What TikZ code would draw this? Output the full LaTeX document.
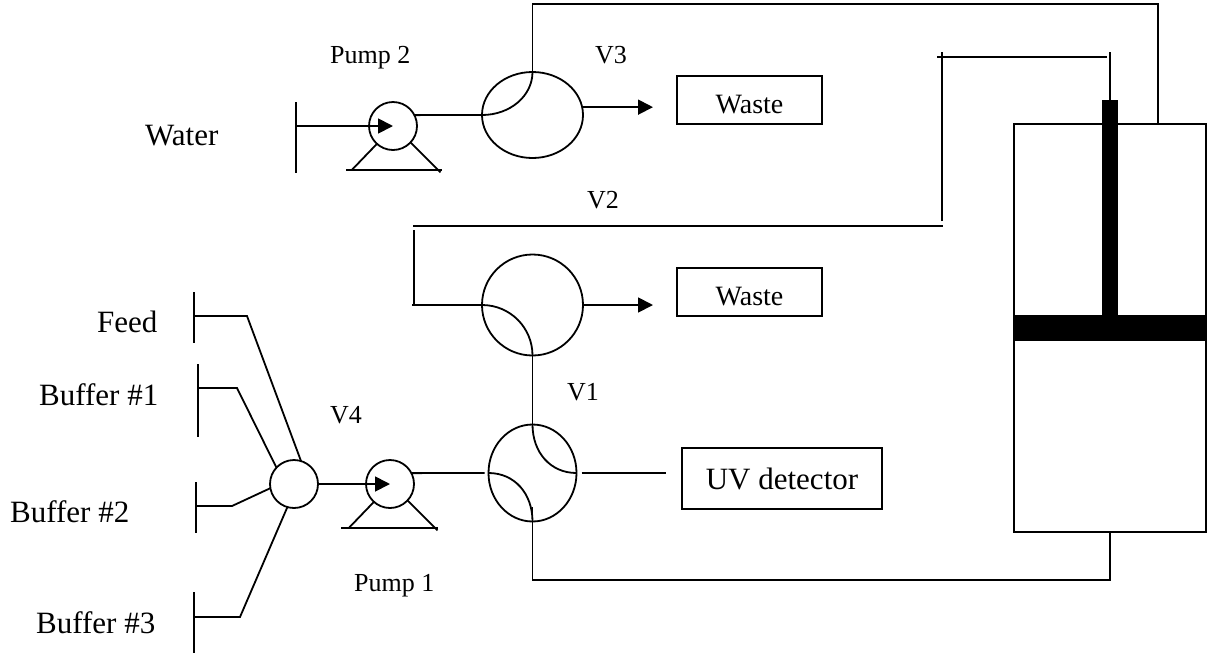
\documentclass[tikz,border=0pt]{standalone}
\usepackage{fontspec}
\setmainfont{Liberation Serif}
\usetikzlibrary{arrows.meta,shapes.geometric}

\tikzset{
  pipe/.style={line width=1.8pt},
  flow/.style={line width=1.8pt,-{Triangle[length=15pt,width=15pt]}},
  valve/.style={draw,line width=1.8pt,ellipse,inner sep=0pt,outer sep=0pt},
  pumpbody/.style={draw,line width=1.8pt,circle,inner sep=0pt,outer sep=0pt,minimum size=48pt},
  wastebox/.style={draw,line width=1.8pt,inner sep=0pt,outer sep=0pt,minimum width=145pt,minimum height=48pt,
    text height=26pt,text depth=0pt,font=\fontsize{28}{28}\selectfont},
  biglabel/.style={anchor=base west,inner sep=0pt,font=\fontsize{31}{31}\selectfont},
  smalllabel/.style={anchor=base west,inner sep=0pt,font=\fontsize{26}{26}\selectfont}
}

\begin{document}
\begin{tikzpicture}[x=1pt,y=-1pt]
	\useasboundingbox (0,0) rectangle (1212,654);

	% Valves and pumps
	\node[valve,minimum width=101pt,minimum height=86pt] (vthree) at (532.5,115) {};
	\node[valve,minimum width=101pt,minimum height=101pt] (vtwo) at (532.5,305) {};
	\node[valve,minimum width=88pt,minimum height=97pt] (vone) at (532.5,473) {};
	\node[pumpbody] (vfour) at (294,484) {};
	\node[pumpbody] (pumpone) at (390,484) {};
	\node[pumpbody] (pumptwo) at (393,126) {};

	% Boxes
	\node[wastebox] (wastetop) at (749.5,100) {Waste};
	\node[wastebox] (wastelow) at (749.5,292) {Waste};
	\node[draw,line width=1.8pt,inner sep=0pt,outer sep=0pt,minimum width=200pt,minimum height=61pt,
		text height=21pt,text depth=0pt,font=\fontsize{31}{31}\selectfont] (uvbox) at (782,478.5) {UV detector};

	% Column with piston
	\node[draw,line width=1.8pt,inner sep=0pt,outer sep=0pt,minimum width=192pt,minimum height=408pt] (column) at (1110,328) {};
	\node[fill=black,inner sep=0pt,outer sep=0pt,minimum width=16pt,minimum height=215pt] (rod) at (1110,207.5) {};
	\node[fill=black,inner sep=0pt,outer sep=0pt,minimum width=192pt,minimum height=26pt] (plate) at (1110,328) {};

	% Free ends
	\coordinate (waterin) at (296,126);
	\coordinate (feedin) at (194,316);
	\coordinate (bufferonein) at (198,388);
	\coordinate (buffertwoin) at (196,506);
	\coordinate (bufferthreein) at (194,617);
	\coordinate (vthreeout) at (653,108);
	\coordinate (vtwoout) at (653,305);
	\coordinate (vtwofree) at (412,305);
	\coordinate (uvfree) at (666,473);
	\coordinate (vonedrain) at (532.5,507);
	\coordinate (columntop) at (1158,124);
	\coordinate (loopcorner) at (414,230);
	\coordinate (loopleft) at (413,226);
	\coordinate (loopright) at (943,226);
	\coordinate (riserlow) at (942,221);
	\coordinate (risertop) at (942,52);
	\coordinate (headleft) at (937,57);
	\coordinate (headright) at (1107,57);
	\coordinate (stemtop) at (1110,52);

	% Inlet bars
	\draw[pipe] (296,102) -- (296,173);
	\draw[pipe] (194,292) -- (194,343);
	\draw[pipe] (198,364) -- (198,437);
	\draw[pipe] (196,482) -- (196,533);
	\draw[pipe] (194,592) -- (194,653);

	% Pump stands
	\draw[pipe] (pumptwo.228) -- ++(-25,26);
	\draw[pipe] (pumptwo.317) -- ++(30,30);
	\draw[pipe] (346,170) -- (442,170);
	\draw[pipe] (pumpone.228) -- ++(-25,26);
	\draw[pipe] (pumpone.317) -- ++(30,30);
	\draw[pipe] (341,528) -- (438,528);

	% Water line and V3
	\draw[flow] (waterin) -- (pumptwo.center);
	\draw[pipe] (pumptwo.27) -- (vthree.west);
	\draw[pipe] (vthree.west) .. controls +(28,0) and +(0,24) .. (vthree.north);
	\draw[flow] (vthree.9 -| vthree.east) -- (vthree.9 -| vthreeout);
	\draw[pipe] (vthree.north) -- ++(0,-68) -| (columntop);

	% Inlets to V4
	\draw[pipe] (feedin) -- ++(53,0) -- (vfour.73);
	\draw[pipe] (bufferonein) -- ++(39,0) -- (vfour.137);
	\draw[pipe] (buffertwoin) -- ++(36,0) -- (vfour.190);
	\draw[pipe] (bufferthreein) -- ++(46,0) -- (vfour.254);
	\draw[flow] (vfour.east) -- (pumpone.center);
	\draw[pipe,shorten >=4pt] (pumpone.27) -- (vone.west);

	% V1 and V2
	\draw[pipe] (vone.west) .. controls +(26,0) and +(0,-28) .. (vone.south);
	\draw[pipe] (vone.north) .. controls +(0,28) and +(-26,0) .. (vone.east);
	\draw[pipe,shorten <=5pt] (vone.east) -- (uvfree);
	\draw[pipe] (vtwo.south) -- (vone.north);
	\draw[pipe] (vtwo.west) .. controls +(28,0) and +(0,-28) .. (vtwo.south);
	\draw[flow] (vtwo.east) -- (vtwoout);
	\draw[pipe] (vonedrain) -- ++(0,73) -| (column.south);

	% Loop from V2 to the piston
	\draw[pipe] (vtwofree) -- (vtwo.west);
	\draw[pipe] (vtwofree -| loopcorner) -- (loopcorner);
	\draw[pipe] (loopleft) -- (loopright);
	\draw[pipe] (riserlow) -- (risertop);
	\draw[pipe] (headleft) -- (headright);
	\draw[pipe] (stemtop) -- (rod.north);

	% Labels
	\node[biglabel] (lblwater) at (145,145) {Water};
	\node[biglabel] (lblfeed) at (97,332) {Feed};
	\node[biglabel] (lblbufferone) at (39,405) {Buffer \#1};
	\node[biglabel] (lblbuffertwo) at (10,522) {Buffer \#2};
	\node[biglabel] (lblbufferthree) at (36,633) {Buffer \#3};
	\node[smalllabel] (lblpumptwo) at (330,63) {Pump 2};
	\node[smalllabel] (lblpumpone) at (354,591) {Pump 1};
	\node[smalllabel] (lblvthree) at (595,63) {V3};
	\node[smalllabel] (lblvtwo) at (587,208) {V2};
	\node[smalllabel] (lblvone) at (567,400) {V1};
	\node[smalllabel] (lblvfour) at (330,423) {V4};
\end{tikzpicture}
\end{document}
